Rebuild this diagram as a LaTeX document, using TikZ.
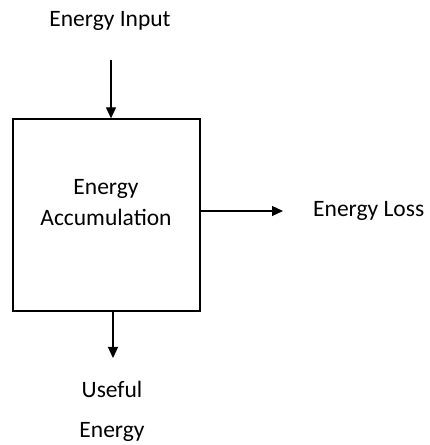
\documentclass[tikz,border=0pt]{standalone}
\usepackage{fontspec}
\setmainfont{Carlito}
\usetikzlibrary{arrows.meta}
\begin{document}
\begin{tikzpicture}[x=1pt,y=1pt,
  lbl/.style={inner sep=0pt,font=\fontsize{23.5}{28}\selectfont},
  conn/.style={line width=1.2pt,-{Triangle[length=11pt,width=10pt]}}]
\useasboundingbox (0,0) rectangle (429,445);
\node[draw,line width=1.3pt,minimum width=187pt,minimum height=192pt,inner sep=0pt] (box) at (106.5,230) {};
\node[lbl,align=center] (acc) at (106,242) {Energy\\[3pt]Accumulation};
\node[lbl] (in) at (110,424) {Energy Input};
\node[lbl,anchor=west] (loss) at (313,234) {Energy Loss};
\node[lbl] (use) at (112,56) {Useful};
\node[lbl] (en) at (112,13) {Energy};
\coordinate (inS) at (111,385);
\coordinate (lossE) at (283,234);
\coordinate (useE) at (113,87);
\draw[conn] (inS) -- (box.north -| inS);
\draw[conn] (box.east |- lossE) -- (lossE);
\draw[conn] (box.south -| useE) -- (useE);
\end{tikzpicture}
\end{document}
